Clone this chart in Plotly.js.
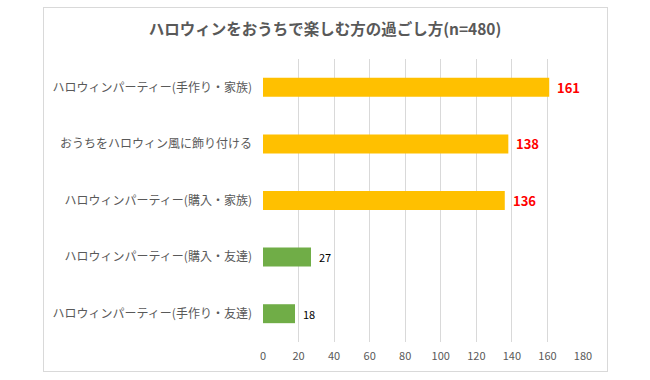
<!DOCTYPE html>
<html>
<head>
<meta charset="utf-8">
<script src="https://cdn.plot.ly/plotly-3.0.1.min.js"></script>
<style>
html,body{margin:0;padding:0;background:#fff;}
#wrap{position:relative;width:650px;height:380px;}
#chart{width:650px;height:380px;}
#frame{position:absolute;left:43px;top:7px;width:563px;height:363px;border:1px solid #D9D9D9;pointer-events:none;}
</style>
</head>
<body>
<div id="wrap"><div id="chart"></div><div id="frame"></div></div>
<script>
const familyCats = ["ハロウィンパーティー(手作り・家族)", "おうちをハロウィン風に飾り付ける", "ハロウィンパーティー(購入・家族)"];
const familyVals = [161, 138, 136];
const friendCats = ["ハロウィンパーティー(購入・友達)", "ハロウィンパーティー(手作り・友達)"];
const friendVals = [27, 18];
const categoryOrder = familyCats.concat(friendCats);
const xTicks = [0, 20, 40, 60, 80, 100, 120, 140, 160, 180];
const titleText = "ハロウィンをおうちで楽しむ方の過ごし方(n=480)";

const FONT = "'Noto Sans CJK JP', 'Noto Sans', sans-serif";

const traces = [
  {
    type: 'bar', orientation: 'h',
    y: familyCats, x: familyVals,
    marker: {color: '#FFC000'},
    hoverinfo: 'none'
  },
  {
    type: 'bar', orientation: 'h',
    y: friendCats, x: friendVals,
    marker: {color: '#70AD47'},
    hoverinfo: 'none'
  }
];

const annotations = [];
familyCats.forEach((c, i) => annotations.push({
  x: familyVals[i], y: c, xref: 'x', yref: 'y',
  text: String(familyVals[i]), showarrow: false,
  xanchor: 'left', yanchor: 'middle', xshift: 6,
  font: {color: '#FF0000', size: 13, family: FONT, weight: 'bold'}
}));
friendCats.forEach((c, i) => annotations.push({
  x: friendVals[i], y: c, xref: 'x', yref: 'y',
  text: String(friendVals[i]), showarrow: false,
  xanchor: 'left', yanchor: 'middle', xshift: 6,
  font: {color: '#000000', size: 11, family: FONT}
}));

const layout = {
  width: 650, height: 380,
  margin: {l: 263, r: 67, t: 59, b: 38},
  paper_bgcolor: '#ffffff', plot_bgcolor: '#ffffff',
  showlegend: false,
  barmode: 'overlay',
  bargap: 0.665,
  font: {family: FONT, color: '#595959', size: 11},
  annotations: annotations,
  title: {
    text: titleText,
    font: {family: FONT, size: 15.5, color: '#595959', weight: 'bold'},
    x: 0.5, xref: 'container', xanchor: 'center',
    y: 1 - 30/380, yref: 'container', yanchor: 'middle'
  },
  xaxis: {
    range: [0, 180],
    tickvals: xTicks,
    ticktext: xTicks.map(String),
    showgrid: true, gridcolor: '#D9D9D9', gridwidth: 1,
    zeroline: false, showline: false,
    ticks: '', ticklabelstandoff: 6,
    tickfont: {size: 11, color: '#595959', family: FONT}
  },
  yaxis: {
    type: 'category',
    categoryorder: 'array', categoryarray: categoryOrder,
    autorange: 'reversed',
    showgrid: false, zeroline: false, showline: false,
    ticks: '', ticklabelstandoff: 10,
    tickfont: {size: 12, color: '#595959', family: FONT}
  }
};

Plotly.newPlot('chart', traces, layout, {staticPlot: true, displayModeBar: false});
</script>
</body>
</html>
